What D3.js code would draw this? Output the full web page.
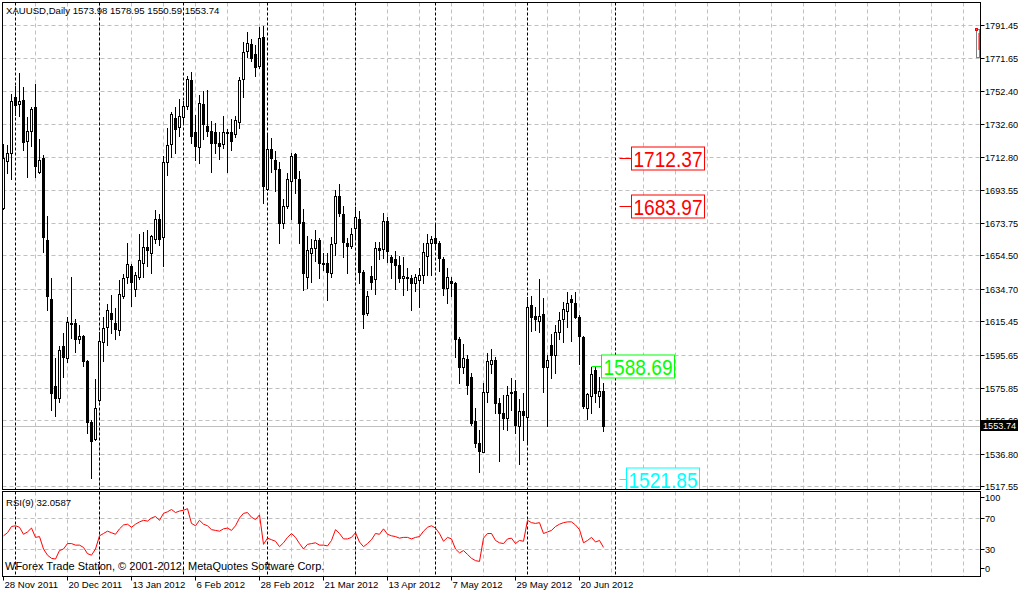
<!DOCTYPE html>
<html><head><meta charset="utf-8">
<script src="https://cdn.jsdelivr.net/npm/d3@7"></script>
<style>body{margin:0;background:#fff}svg{display:block}text{font-family:"Liberation Sans",Arial,sans-serif}</style>
</head><body><svg id="c" width="1018" height="592"></svg>
<script>
// ---------- data ----------
const symbol = "XAUUSD,Daily";
const opens = [1683.0,1710.9,1715.7,1749.0,1744.8,1747.2,1722.8,1728.8,1743.0,1704.4,
1712.7,1664.0,1628.9,1577.2,1570.1,1601.0,1593.9,1614.7,1614.7,1605.2,
1606.9,1592.1,1555.9,1545.7,1568.9,1603.4,1612.3,1620.6,1614.7,1610.5,
1630.7,1642.0,1648.5,1634.9,1642.0,1650.3,1659.8,1656.3,1664.6,1676.5,
1665.8,1710.3,1721.0,1736.5,1731.1,1737.1,1743.6,1759.1,1728.2,1719.3,
1744.8,1731.7,1728.8,1728.2,1721.6,1721.0,1727.9,1728.2,1727.0,1734.1,
1759.7,1776.3,1780.5,1774.5,1767.4,1784.6,1694.3,1718.1,1711.5,1706.2,
1674.1,1684.2,1699.0,1715.1,1700.2,1674.7,1642.0,1656.3,1659.2,1664.0,
1650.3,1650.3,1644.4,1662.2,1690.1,1679.4,1662.2,1660.4,1671.1,1676.5,
1645.0,1620.6,1642.6,1640.8,1659.2,1658.7,1675.3,1653.9,1652.7,1649.1,
1641.4,1642.0,1641.4,1638.4,1640.2,1643.2,1654.5,1662.2,1665.2,1662.2,
1652.7,1635.5,1639.6,1638.4,1605.2,1588.5,1593.3,1582.6,1556.4,1543.4,
1538.0,1573.7,1590.3,1592.7,1567.1,1561.2,1558.2,1573.1,1574.3,1553.5,
1562.4,1558.8,1625.4,1618.8,1615.9,1620.0,1588.5,1601.6,1595.7,1609.3,
1617.1,1621.8,1628.9,1626.6,1618.2,1606.4,1564.2,1571.3,1586.7,1571.3,
1573.98];
const highs = [1721.0,1720.4,1750.7,1755.5,1763.2,1754.9,1737.1,1743.0,1756.7,1724.0,
1714.5,1678.3,1641.4,1593.9,1601.0,1608.7,1618.2,1642.0,1617.1,1613.5,
1607.5,1592.7,1557.0,1581.4,1609.3,1618.2,1626.0,1631.3,1623.6,1640.2,
1643.8,1662.2,1649.7,1645.0,1667.6,1668.7,1669.9,1667.0,1681.8,1679.4,
1713.9,1730.5,1740.0,1743.0,1747.8,1746.6,1761.4,1763.8,1738.3,1750.2,
1752.5,1753.1,1734.7,1733.5,1728.2,1737.7,1730.0,1735.9,1737.7,1760.9,
1781.6,1787.6,1783.4,1779.9,1790.6,1791.2,1727.0,1724.6,1716.9,1710.1,
1688.4,1703.8,1715.7,1715.7,1705.0,1682.4,1666.4,1664.6,1669.9,1665.2,
1656.3,1656.3,1665.8,1693.7,1697.3,1684.2,1665.2,1671.1,1683.6,1681.2,
1646.2,1633.7,1648.5,1662.8,1662.8,1680.0,1677.7,1655.1,1657.5,1654.5,
1653.9,1647.4,1643.2,1643.8,1647.4,1662.2,1667.6,1666.4,1673.5,1663.4,
1653.9,1647.4,1642.0,1639.0,1606.4,1602.2,1595.7,1585.0,1564.2,1551.1,
1579.0,1596.9,1599.2,1594.5,1570.1,1571.9,1577.2,1582.0,1580.8,1569.5,
1573.1,1630.1,1630.7,1624.2,1640.8,1629.5,1595.7,1608.1,1613.5,1621.2,
1627.2,1633.1,1631.3,1633.1,1619.4,1606.9,1573.1,1588.69,1588.5,1582.6,
1578.95];
const lows = [1682.4,1703.8,1700.2,1738.3,1737.7,1717.5,1701.4,1719.8,1701.4,1703.8,
1656.9,1622.4,1563.0,1559.4,1567.7,1582.6,1591.5,1605.8,1597.4,1602.8,
1589.1,1549.3,1522.6,1545.2,1568.3,1592.1,1601.6,1608.7,1605.2,1607.5,
1629.5,1638.4,1624.8,1630.7,1640.8,1642.0,1648.5,1644.4,1662.2,1661.0,
1648.5,1702.6,1713.3,1715.7,1725.8,1732.9,1741.8,1721.6,1711.5,1709.7,
1724.0,1725.8,1704.4,1715.7,1712.1,1718.7,1704.4,1717.5,1725.2,1730.5,
1749.0,1772.7,1770.4,1761.4,1766.2,1686.0,1693.7,1704.4,1693.1,1662.2,
1671.1,1683.0,1676.5,1691.9,1662.2,1634.3,1635.5,1639.0,1651.5,1641.4,
1646.2,1628.3,1642.0,1655.1,1678.3,1653.9,1644.4,1659.2,1665.2,1638.4,
1611.7,1619.4,1634.9,1631.9,1652.7,1653.3,1650.9,1641.4,1634.9,1639.0,
1631.3,1634.3,1622.4,1633.7,1624.2,1638.4,1643.2,1643.2,1659.8,1645.6,
1631.3,1626.6,1630.7,1594.5,1579.0,1585.0,1572.5,1554.1,1541.0,1526.1,
1538.0,1567.7,1585.0,1561.2,1532.7,1551.7,1551.1,1563.0,1549.3,1530.9,
1545.2,1543.4,1610.1,1610.5,1609.3,1573.7,1553.5,1582.0,1585.0,1605.2,
1603.4,1612.3,1604.0,1617.6,1590.3,1564.2,1557.6,1561.2,1567.7,1564.8,
1550.59];
const closes = [1712.7,1715.7,1746.6,1744.2,1746.6,1722.2,1728.8,1741.8,1708.0,1711.5,
1665.8,1630.7,1573.1,1570.1,1598.6,1594.5,1615.3,1614.4,1605.2,1606.9,
1592.1,1555.9,1544.6,1564.2,1604.0,1611.7,1622.4,1617.0,1611.1,1631.9,
1641.4,1649.7,1639.0,1643.2,1652.1,1659.8,1658.1,1666.4,1676.5,1664.6,
1710.3,1720.4,1738.9,1730.0,1737.7,1743.6,1759.7,1725.8,1719.8,1745.4,
1732.9,1728.8,1721.6,1721.6,1719.8,1728.2,1728.2,1722.8,1735.3,1759.1,
1775.7,1781.0,1772.1,1766.8,1784.0,1696.1,1718.1,1712.7,1706.2,1674.1,
1684.2,1700.2,1713.9,1700.8,1674.1,1644.4,1658.1,1659.2,1664.0,1650.3,
1650.0,1645.0,1661.6,1690.1,1680.0,1662.8,1660.4,1667.6,1677.7,1645.0,
1620.0,1630.7,1639.0,1659.2,1658.1,1675.3,1657.5,1650.9,1649.1,1641.4,
1642.6,1642.3,1638.4,1642.0,1643.2,1656.9,1662.2,1664.6,1662.2,1653.3,
1635.5,1642.0,1638.4,1605.2,1588.5,1593.9,1577.8,1555.3,1543.4,1538.6,
1573.7,1592.1,1592.7,1567.1,1561.2,1558.2,1571.9,1573.4,1554.1,1562.4,
1560.0,1624.2,1618.2,1617.0,1618.8,1588.5,1592.7,1595.7,1609.3,1616.5,
1623.0,1626.6,1627.2,1618.2,1606.9,1565.4,1572.5,1584.4,1573.1,1574.3,
1553.74];
const rsi = [47,51,59,60,58,49,52,57,45,46,
30,22,18,17,28,30,37,37,35,35,
32,24,22,30,47,50,53,51,49,56,
61,62,58,62,65,67,66,70,72,67,
76,78,81,77,79,80,82,63,60,67,
62,60,55,54,53,56,57,54,60,70,
76,77,71,68,74,36,44,42,40,33,
38,45,50,45,37,30,36,37,38,35,
35,34,41,55,50,43,43,45,51,39,
33,37,42,50,49,56,49,47,46,44,
45,45,43,45,46,53,58,60,57,50,
40,45,43,30,25,28,23,18,15,14,
44,50,50,41,38,37,43,44,37,41,
40,67,64,63,64,50,52,54,59,62,
64,65,65,61,55,38,41,45,39,41,
32.0587];
const priceTicks = [1791.45,1771.65,1752.40,1732.60,1712.80,1693.55,1673.75,1654.50,1634.70,1615.45,1595.65,1575.85,1556.60,1536.80,1517.55];
const rsiTicks = [100,70,30,0];
const rsiLevels = [70,30];
const dateLabels = ["28 Nov 2011","20 Dec 2011","13 Jan 2012","6 Feb 2012","28 Feb 2012","21 Mar 2012","13 Apr 2012","7 May 2012","29 May 2012","20 Jun 2012"];
const dateBars = [0,16,32,48,64,80,96,112,128,144];
const separatorBars = [3,24,45,66,88,108,131,153];
const levelValues = [1712.37,1683.97,1588.69,1521.85];
const levelColors = ["#ff0000","#ff0000","#00ff00","#00ffff"];
const levelStartBar = [154,154,147,154];
const watermark = "WForex Trade Station, \u00a9 2001-2012, MetaQuotes Software Corp.";

// ---------- layout ----------
const W = 1018, H = 592;
const L = 2.5, R = 980.5, T = 2.5, MB = 489.5, RT = 491.5, RB = 576.5;
const FONT = 9.6, AXFONT = 9.2;
const svg = d3.select("#c");
const n = closes.length;
const x = d3.scaleLinear().domain([0, 1]).range([3.5, 7.5]);
const y = d3.scaleLinear().domain([1517.55, 1791.45]).range([486.46, 25.5]);
const yr = d3.scaleLinear().domain([0, 100]).range([572.25, 494.75]);
const crisp = v => Math.round(v - 0.5) + 0.5;

svg.append("rect").attr("width", W).attr("height", H).attr("fill", "#fff");
const defs = svg.append("defs");
defs.append("clipPath").attr("id", "cm").append("rect").attr("x", L).attr("y", T).attr("width", R - L).attr("height", MB - T);
defs.append("clipPath").attr("id", "cr").append("rect").attr("x", L).attr("y", RT).attr("width", R - L).attr("height", RB - RT);

const gridBars = d3.range(8, 241, 8);

// ---- main pane ----
const gm = svg.append("g").attr("clip-path", "url(#cm)");
gm.selectAll("line.hg").data(priceTicks).join("line")
  .attr("x1", L).attr("x2", R).attr("y1", d => crisp(y(d))).attr("y2", d => crisp(y(d)))
  .attr("stroke", "#c0c0c0").attr("stroke-dasharray", "4,3");
gm.selectAll("line.vg").data(gridBars).join("line")
  .attr("x1", d => x(d)).attr("x2", d => x(d)).attr("y1", T).attr("y2", MB)
  .attr("stroke", "#c0c0c0").attr("stroke-dasharray", "4,3");
gm.selectAll("line.sep").data(separatorBars).join("line")
  .attr("x1", d => x(d)).attr("x2", d => x(d)).attr("y1", T).attr("y2", MB)
  .attr("stroke", "#000").attr("stroke-dasharray", "3,2");
// bid line
gm.append("line").attr("x1", L).attr("x2", R)
  .attr("y1", crisp(y(closes[n - 1])) + 1).attr("y2", crisp(y(closes[n - 1])) + 1)
  .attr("stroke", "#c0c0c0");

// candles
const idx = d3.range(n);
gm.selectAll("line.wick").data(idx).join("line")
  .attr("x1", i => x(i)).attr("x2", i => x(i))
  .attr("y1", i => Math.round(y(highs[i]))).attr("y2", i => Math.round(y(lows[i])) + 1)
  .attr("stroke", "#000");
idx.forEach(i => {
  const top = Math.round(y(Math.max(opens[i], closes[i])));
  let bot = Math.round(y(Math.min(opens[i], closes[i])));
  if (bot - top < 1) bot = top + 1;
  const bull = closes[i] >= opens[i];
  gm.append("rect").attr("x", x(i) - 1.5).attr("width", 3).attr("y", top).attr("height", bot - top + 1).attr("fill", "#000");
  if (bull && bot - top >= 2) {
    gm.append("rect").attr("x", x(i) - 0.5).attr("width", 1).attr("y", top + 1).attr("height", bot - top - 1).attr("fill", "#fff");
  }
});

// level labels
levelValues.forEach((v, k) => {
  const yy = crisp(y(v));
  const x0 = x(levelStartBar[k]);
  const bx = k === 2 ? 601.5 : (k === 3 ? 626.5 : 631.5);
  const bw = 73;
  gm.append("line").attr("x1", x0).attr("x2", bx).attr("y1", yy).attr("y2", yy).attr("stroke", levelColors[k]);
  gm.append("rect").attr("x", bx).attr("y", yy - 11.5).attr("width", bw).attr("height", 23)
    .attr("fill", "#fff").attr("stroke", levelColors[k]);
  gm.append("text").attr("x", bx + 2).attr("y", yy + 8).attr("fill", levelColors[k])
    .attr("font-size", 22).attr("textLength", 69).attr("lengthAdjust", "spacingAndGlyphs").text(v.toFixed(2));
});

// corner marker
svg.append("rect").attr("x", 976.5).attr("y", 29.5).attr("width", 3).attr("height", 28).attr("fill", "none").attr("stroke", "#808080");
svg.append("line").attr("x1", 979).attr("x2", 979).attr("y1", 33).attr("y2", 50).attr("stroke", "#ff0000");
svg.append("rect").attr("x", 975.5).attr("y", 28.5).attr("width", 2).attr("height", 2).attr("fill", "none").attr("stroke", "#ff0000");

// frame
svg.append("rect").attr("x", L).attr("y", T).attr("width", R - L).attr("height", MB - T).attr("fill", "none").attr("stroke", "#000");
svg.append("text").attr("x", 6).attr("y", 13.5).attr("font-size", FONT).text(
  symbol + "  " + [opens[n - 1], highs[n - 1], lows[n - 1], closes[n - 1]].map(d => d.toFixed(2)).join(" "));

// price axis
svg.selectAll("line.pt").data(priceTicks).join("line")
  .attr("x1", R).attr("x2", R + 4).attr("y1", d => crisp(y(d))).attr("y2", d => crisp(y(d))).attr("stroke", "#000");
svg.selectAll("text.pt").data(priceTicks).join("text")
  .attr("x", 985).attr("y", d => crisp(y(d)) + 3.5).attr("font-size", AXFONT).text(d => d.toFixed(2));
// bid label
const by = crisp(y(closes[n - 1]));
svg.append("rect").attr("x", 981).attr("y", by - 5.5).attr("width", 37).attr("height", 11).attr("fill", "#000");
svg.append("text").attr("x", 983).attr("y", by + 3.5).attr("font-size", AXFONT).attr("fill", "#fff").text(closes[n - 1].toFixed(2));

// ---- RSI pane ----
const gr = svg.append("g").attr("clip-path", "url(#cr)");
gr.selectAll("line.rl").data(rsiLevels).join("line")
  .attr("x1", L).attr("x2", R).attr("y1", d => crisp(yr(d))).attr("y2", d => crisp(yr(d)))
  .attr("stroke", "#c0c0c0").attr("stroke-dasharray", "4,3");
gr.selectAll("line.vg").data(gridBars).join("line")
  .attr("x1", d => x(d)).attr("x2", d => x(d)).attr("y1", RT).attr("y2", RB)
  .attr("stroke", "#c0c0c0").attr("stroke-dasharray", "4,3");
gr.selectAll("line.sep").data(separatorBars).join("line")
  .attr("x1", d => x(d)).attr("x2", d => x(d)).attr("y1", RT).attr("y2", RB)
  .attr("stroke", "#000").attr("stroke-dasharray", "3,2");
gr.append("path").datum(rsi).attr("fill", "none").attr("stroke", "#ff0000").attr("stroke-width", 1)
  .attr("d", d3.line().x((d, i) => x(i)).y(d => yr(d)));
svg.append("rect").attr("x", L).attr("y", RT).attr("width", R - L).attr("height", RB - RT).attr("fill", "none").attr("stroke", "#000");
svg.append("text").attr("x", 6).attr("y", 506).attr("font-size", FONT).text("RSI(9) " + rsi[n - 1].toFixed(4));
svg.append("text").attr("x", 5).attr("y", 570).attr("font-size", 11).text(watermark);

const rtY = d => crisp(Math.min(Math.max(yr(d), RT + 6), RB - 8));
svg.selectAll("line.rt").data(rsiTicks).join("line")
  .attr("x1", R).attr("x2", R + 4).attr("y1", rtY).attr("y2", rtY).attr("stroke", "#000");
svg.selectAll("text.rt").data(rsiTicks).join("text")
  .attr("x", 985).attr("y", d => rtY(d) + 3.5).attr("font-size", AXFONT).text(d => d);

// date axis
svg.selectAll("line.dt").data(dateBars).join("line")
  .attr("x1", d => x(d)).attr("x2", d => x(d)).attr("y1", RB).attr("y2", RB + 4).attr("stroke", "#000");
svg.selectAll("text.dt").data(dateLabels).join("text")
  .attr("x", (d, k) => x(dateBars[k]) + 1).attr("y", 588).attr("font-size", FONT).text(d => d);
</script></body></html>
